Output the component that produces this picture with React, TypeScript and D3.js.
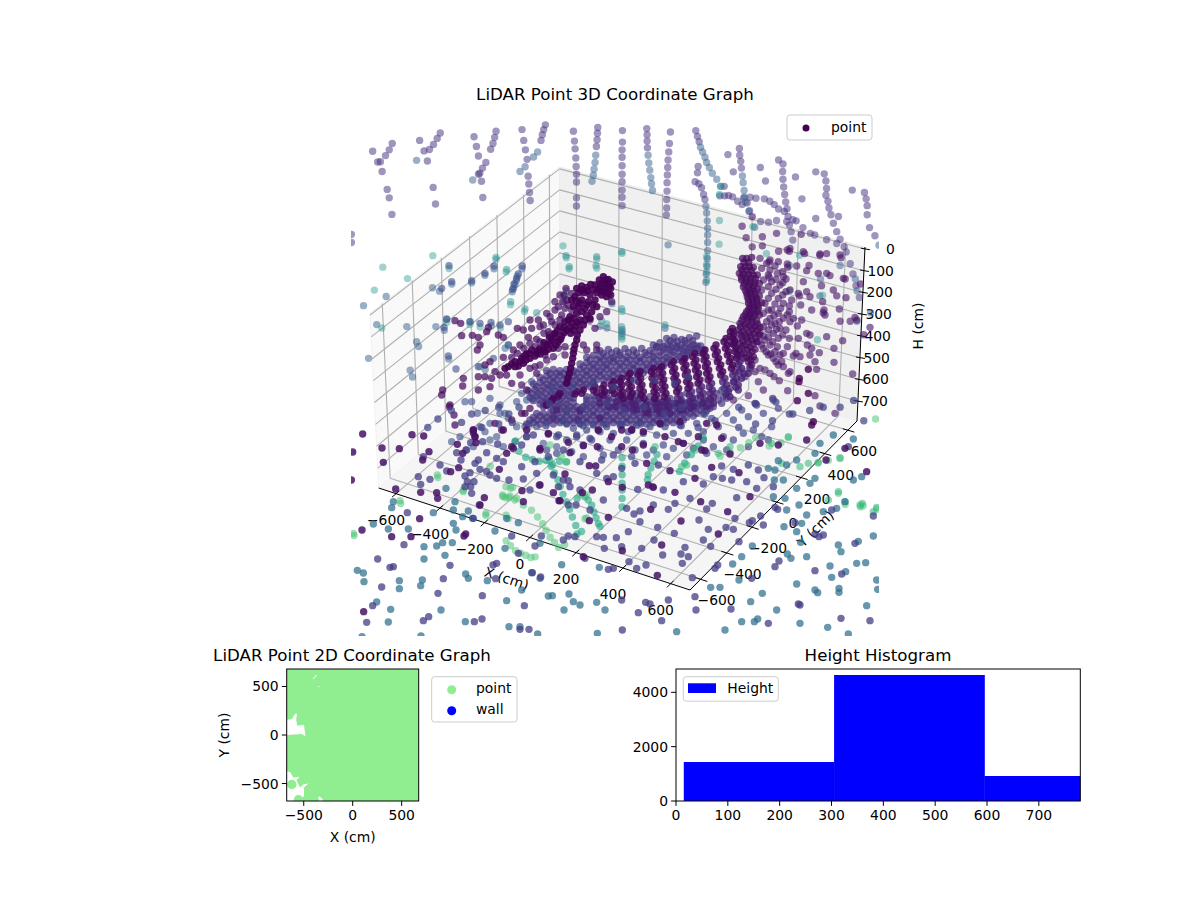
import React from "react";
import * as d3 from "d3";

// ---------- readings of the picture-plane LiDAR cloud (u,v pairs, per view frame) ----------
const farStrips = [125,99,116,118,105,135,90,153,82,154,67,122,95,182,110,235,116,260,124,309,267,68,258,84,247,102,235,117,219,121,206,90,229,151,246,229,253,278,432,63,428,81,423,99,416,116,367,79,374,108,380,136,402,155,392,172,384,187,380,190,389,211,393,259,578,44,573,58,569,73,565,90,509,58,514,90,519,118,524,146,527,196,529,219,531,244,533,268,661,63,664,92,666,115,668,142,669,167,670,190,670,213,670,260,670,284,733,52,732,69,731,88,729,108,806,61,806,95,805,118,805,140,805,165,805,190,805,212,805,237,805,258,805,283,878,55,879,73,879,92,880,112,948,65,945,99,943,124,941,148,940,170,939,192,938,215,938,240,937,265,937,290,936,311,1023,61,1028,78,1033,94,1021,212,1032,218,1040,230,1046,250,1050,265,1152,114,1153,134,1156,152,1158,172,1118,132,1134,183,1030,167,1028,186,1107,226,1094,254,1108,254,1120,253,1132,257,1147,270,1160,280,1184,258,1201,261,1226,263,1242,270,1255,280,1268,293,1268,148,1281,160,1280,182,1281,205,1283,228,1286,250,1289,272,1293,292,1296,315,1300,340,1305,360,1310,385,1403,189,1408,210,1410,232,1408,252,1414,270,1417,290,1423,310,1430,335,1440,360,1450,382,1462,405,1468,420,1480,455,1488,485,1497,520,1507,555,1522,244,1527,263,1530,283,1530,310,1537,348,1553,372,1214,170,1229,210,1318,198,1378,183,1337,263,1486,237,1445,315,1378,321,1285,300,1310,325,1340,348,1375,370,1410,384,1440,395,1165,260,1175,275,1182,298,1215,330,1238,332,1262,327,1292,330,1320,328,1362,365,4,368,4,392];
const paleStrips = [197,149,363,207,518,168,503,182,543,139,555,124,727,134,725,155,722,175,720,193,716,211,882,134,884,157,887,178,890,200,892,218,895,238,1037,110,1043,124,1050,140,1055,155,1063,170,1072,187,1085,205,1097,226,1053,285,1055,305,1057,328,1058,350,1058,370,1058,392,1058,416,1057,440,1056,463,1054,486,1053,510,1161,195,1163,215,1166,238,1167,258,1170,272,1180,300,1197,347,941,399,107,552,40,579,244,526,265,536,360,511,301,515,426,470,399,489,509,470,79,635,168,641,254,641,279,652,197,686,203,700,418,638,932,646,805,650,805,662,760,645,740,640,640,535,637,550,634,566,775,573,495,492,492,505,488,516,484,527,480,538,459,705,292,737,178,770,185,790,55,735,400,768,1392,500,1500,535,1540,600,1500,625,1565,400,1495,500,1450,460,1390,550,1300,460];
const tealDots = [245,431,97,465,170,499,293,469,432,442,462,479,72,533,475,576,630,402,640,437,648,470,730,441,730,468,805,424,1093,327,1092,397,805,596,516,596,94,645,286,628,355,635,385,642,445,645,1096,226,1093,250,805,678,1300,535,1398,548,1383,680,1232,425,1330,430,1192,345];
const wallDots = [1160,344,1190,316,1172,378,1220,375,1190,405,1220,402,1262,365,1335,368,1268,418,1300,418,1345,425,1390,430,1453,437,1410,425,1240,450,1295,465,1358,460,1420,490,1465,500,1510,515,1240,495,1290,500,1330,550,1395,520,1440,550,1400,600,1450,625,1480,625,1520,665];
const outerWallD = [270,55,310,65,360,72,420,75,290,108,262,102,320,122,380,130,430,145,310,155,295,190,320,185,355,130,400,180,180,85,210,90,235,95,262,60,185,115,210,120,232,130,250,140,270,180,190,150,215,155,240,165,258,185,275,210,185,180,215,190,235,205,250,220,268,245,280,265,195,220,215,240,235,250,250,265,270,275,292,288,305,270,190,250,210,265,225,280,240,295,268,325,295,325,320,310,330,315,190,290,205,300,220,310,235,325,262,350,288,370,322,345,335,355,180,310,195,330,210,345,225,365,240,375,300,380,358,368,175,335,190,355,205,375,220,385,235,405,250,410,270,425,265,430,165,390,180,415,210,430,238,452,263,482,350,418,402,397,402,355,428,332,458,432,510,292,375,255,418,237,335,240,302,225,330,200,438,203,465,262,470,270,368,215,372,240,380,320,345,395,405,550,360,528,345,497,218,505,165,520,145,497,190,480,175,455,100,510,280,378,330,375,200,100,225,108,248,125,205,135,228,148,248,158,205,170,228,178,248,195,268,228,205,205,225,222,242,235,262,255,205,240,222,258,238,275,258,300,200,275,215,285,230,298,248,315,190,318,205,322,218,335,232,350,250,370,185,345,198,365,212,372,228,395,245,395,150,410,165,425,195,420,222,440];
const darkWallD = [298,445,325,490,292,512,297,455,325,418,340,575,335,585];
const wallColumn = [128,85,140,85,155,82,122,110,135,110,148,110,160,112,118,130,130,132,145,133,160,135,172,135,125,150,138,152,150,155,165,158,178,160,130,170,145,172,158,175,172,178,140,190,152,192,165,195,178,198,145,210,158,212,170,215,185,218,150,230,162,232,175,235,140,245,152,250,165,252,178,255,130,260,142,265,155,268,170,272,120,280,135,285,150,288,165,290,180,292,115,300,130,305,148,308,162,310,178,315,125,320,140,325,155,330,170,335,120,340,135,345,150,352,165,358,118,360,132,368,148,375,160,380,130,385,145,395,155,405,132,98,146,97,126,120,140,121,154,122,124,141,138,142,152,144,166,146,133,161,148,163,162,166,136,181,150,182,164,184,142,200,156,202,170,205,146,220,160,222,174,225,146,238,158,241,172,244,136,253,148,258,160,260,126,270,140,275,156,278,172,282,122,290,138,295,156,298,172,302,120,312,136,315,152,318,168,324,128,332,144,336,160,342,126,350,142,358,156,365,124,372,140,382,152,390,90,320,100,305,105,330,95,340];
const ribUpper = [877,235,880,255,884,275,888,295,892,315,858,265,862,285,866,305,872,325,878,345,828,285,832,305,836,325,842,345,848,365,795,300,798,320,802,340,806,360,810,380,765,310,768,330,772,350,776,370,780,390,735,325,738,345,742,365,746,385,750,405,700,335,704,355,708,375,712,395,716,415,665,350,668,370,671,390,675,410,678,430,640,355,642,375,645,395,648,415,650,435,600,365,602,385,606,405,610,425,612,445,570,370,572,390,574,410,577,430,545,385,546,405,548,425,550,445,520,395,521,412,523,430,492,405,494,425,465,410,470,428,430,420,410,425,360,430,340,445,320,465,
  871,245,878,265,882,285,886,305,890,325,852,275,856,295,862,315,868,335,874,355,822,295,826,315,832,335,838,355,842,375,789,310,792,330,796,350,800,370,804,390,758,320,762,340,766,360,770,380,774,400,728,335,732,355,736,375,740,395,744,415,694,345,698,365,702,385,706,405,710,425,658,360,662,380,666,400,668,420,672,440,634,365,636,385,638,405,642,425,644,445,594,375,596,395,600,415,603,435,564,380,566,400,568,420,572,440,540,395,540,415,542,435,514,405,516,422,486,415,488,435,460,420,425,430,405,432,355,438,335,452];
const ribLower = [900,335,905,355,912,370,925,370,885,365,890,385,895,405,895,420,855,385,860,405,865,425,870,440,815,400,817,420,820,440,820,460,785,410,790,430,795,450,800,470,755,425,757,445,760,470,720,435,724,455,730,480,682,450,686,470,690,490,655,455,658,472,660,490,618,465,622,480,625,490,582,450,586,465,590,480,552,460,556,475,525,470,530,455,505,470,500,450,480,460,478,445,420,480,480,505,350,480,895,345,898,365,905,385,878,375,882,395,888,412,848,395,852,415,858,432,808,410,810,430,812,450,778,420,782,440,788,460,748,435,750,455,752,475,712,445,716,465,720,480,675,460,678,480,648,462,650,480,612,472,616,488,575,460,580,475];
const bandCloud = [680,265,702,262,725,268,748,263,770,258,640,285,660,278,682,284,700,280,722,286,740,281,760,284,782,288,480,302,505,298,530,303,555,296,580,300,605,295,630,302,650,292,670,298,690,300,710,295,730,302,750,298,770,295,790,300,440,322,460,316,480,320,500,318,520,322,540,316,560,320,580,318,600,322,620,315,640,320,660,318,680,322,700,316,720,320,740,315,420,342,440,338,460,342,480,338,500,342,520,336,540,340,560,338,580,342,600,336,620,342,640,338,660,342,680,338,320,362,340,358,360,362,380,358,400,362,420,358,440,362,460,358,480,362,500,358,520,362,540,358,560,362,580,358,600,362,620,360,300,382,320,378,340,382,360,378,380,382,400,378,420,382,440,378,460,382,480,378,500,382,520,378,540,382,280,402,300,398,320,402,340,398,360,402,380,398,400,402,420,398,440,402,460,398,265,422,285,418,305,422,325,418,345,422,365,418,385,422,270,442,290,438,310,442,330,438,350,442,370,438,390,442,440,440,460,438,500,430,505,445,535,440,560,440,590,430,595,450,630,440,640,455,690,445,700,460,740,430,745,455,780,435,790,455,830,430,835,450,870,415,880,395,915,380,930,355,300,462,320,458,340,462,360,458,380,462,400,458,440,460,460,462,480,458,500,462,520,458,540,462,560,458,580,462,600,458,620,462,640,458,660,462,680,458,700,462,720,458,740,462,760,458,780,462,340,482,360,478,380,482,400,478,420,482,440,478,460,482,480,478,500,482,520,478,540,482,560,478,580,482,600,478,620,482,640,478,660,482,680,478,700,482,720,478,740,482,760,478,780,480,800,482,820,470,845,460,280,502,300,498,320,502,340,498,360,502,380,498,400,502,420,498,440,502,460,498,480,502,500,498,520,502,540,498,560,502,580,498,600,502,620,498,640,502,660,498,680,502,700,498,720,498,740,502,760,498,260,522,280,518,300,522,320,518,340,522,360,518,380,522,400,518,420,522,440,518,460,522,480,518,500,522,520,518,540,522,560,518,580,522,600,518,620,522,640,518,660,522,680,518,700,518];
const bandFill = [690,272,712,274,735,272,758,272,650,290,671,290,692,291,712,290,733,292,752,291,772,288,490,310,515,309,540,309,565,307,590,309,615,308,640,309,660,306,680,309,700,307,720,309,742,307,762,306,782,308,450,330,470,329,490,329,510,329,530,328,550,328,570,329,590,330,610,328,630,329,650,329,670,330,690,329,710,329,730,328,430,350,450,350,470,350,490,350,510,349,530,349,550,349,570,350,590,350,610,349,630,350,650,350,670,349,330,370,350,370,370,370,390,370,410,369,430,370,450,370,470,370,490,370,510,370,530,370,550,370,570,370,590,370,610,369,310,390,330,390,350,390,370,390,390,390,410,390,430,390,450,390,470,390,490,390,510,390,530,390,290,410,310,410,330,410,350,410,370,410,390,410,410,410,430,410,450,410,275,430,295,430,315,430,335,430,355,430,375,430,395,430,280,452,300,450,320,450,340,450,360,450,380,450,400,445,440,450,460,450,480,440,520,445,540,450,570,450,600,445,620,455,650,460,670,455,710,460,725,450,765,445,770,460,810,445,810,465,850,440,860,445,310,470,330,470,350,470,370,470,390,470,410,470,430,470,450,470,470,470,490,470,510,470,530,470,550,470,570,470,590,470,610,470,630,470,650,470,670,470,690,470,710,470,730,470,750,470,770,470,790,470,810,475,290,490,310,490,330,490,350,490,370,490,390,490,410,490,430,490,450,490,470,490,490,490,510,490,530,490,550,490,570,490,590,490,610,490,630,490,650,490,670,490,690,490,710,490,730,490,750,490,770,490,790,490,270,510,290,510,310,510,330,510,350,510,370,510,390,510,410,510,430,510,450,510,470,510,490,510,510,510,530,510,550,510,570,510,590,510,610,510,630,510,650,510,670,510,690,510,710,510,730,510];
const peakRidge = [490,80,505,88,517,96,478,90,492,100,508,108,495,118,480,112,465,105,512,135,500,140,485,135,470,128,452,103,440,112,425,108,410,115,432,128,450,135,465,150,445,155,425,150,405,140,395,150,415,170,435,175,455,185,410,190,390,200,375,215,395,218,420,210,360,230,380,240,400,240,345,250,365,258,335,270,355,275,320,285,340,295,300,295,315,305,290,310,275,300,260,312,245,325,225,335,235,348,205,350,195,355,270,325,250,340,470,170,440,195,430,225,412,255,405,285,400,310,395,340,388,370,380,400,
  498,90,484,100,500,105,512,115,474,118,488,125,502,125,460,118,442,122,424,120,416,128,408,152,420,160,440,165,458,165,400,170,425,185,400,205,385,210,412,218,372,232,390,232,408,228,352,242,372,248,392,250,328,262,345,262,362,268,312,278,330,280,348,285,295,302,310,298,325,298,268,310,285,318,300,312,252,318,240,335,258,330,215,342,225,350,450,205,435,210,420,240,410,270,402,298,398,325,392,355,384,385];
const sideRidge = [378,115,372,135,368,155,345,180,330,200,310,225,320,190,355,170,360,210,450,210,465,235,480,200,500,185,515,155,505,130,395,180,375,175,345,225,330,255,355,295,375,315,340,320,315,315,300,345,285,350,270,355,240,375,245,405,260,420,290,370,320,330,470,285,440,300,470,300,430,285,375,290,385,165,365,195,335,215,312,250,300,275,285,290,270,280,252,295,232,310,215,322,360,135,345,155,380,150,395,130];
const leftDark = [45,212,62,220,65,257,97,256,115,262,120,285,112,300,145,232,140,245,175,255,190,262,232,235,250,240,275,235,270,210,295,210,300,230,265,262,290,268,325,245,345,250,240,285,220,300,190,322,150,335,135,380,115,380,180,375,155,385,150,410,115,420,70,385,68,408,30,465,42,495,45,525,100,540,105,560,185,540,165,520,215,510,245,490,270,475,255,490,315,465,340,505,325,550,415,510,475,540,575,540,5,435,8,420,200,375,215,400,28,470,135,345,165,365];
const leftBlue = [27,47,135,70,162,48,95,92,35,95,20,207,12,232,90,215,120,220,153,217,205,285,115,350,48,357,25,318,5,115,205,215,180,225,247,48,235,72,230,85,222,102,218,118,160,325,75,455,95,455,112,490,180,490,195,490,35,575,60,560,150,520,120,530,230,530,255,530,150,570,100,590,80,600,245,430,260,450,230,455,275,395,180,465,150,445,205,505,135,545,170,560,190,590,225,575,260,560,290,530,310,580,350,590];
const leftTeal = [168,22,200,58,212,155,255,177,290,188,378,17,388,50,470,20,468,47,545,5,545,176,545,230,545,245,545,260,800,20,800,43,800,65,800,90,675,225,500,222,485,213,20,208,90,215,120,350,205,285];
const underBand = [380,520,400,535,420,520,440,540,460,525,480,545,500,530,520,550,545,525,565,545,590,525,610,550,630,530,650,555,675,530,700,550,720,525,745,550,770,520,790,545,815,505,835,530,860,490,880,510,905,480,925,500,950,465,970,490,1000,450,1015,475,350,560,380,570,410,560,430,585,455,570,480,595,510,570,535,600,560,570,585,600,610,580,640,600,670,585,700,595,730,580,760,595,790,570,820,590,850,560,880,570,910,550,940,540,965,560,995,530,320,600,350,610,395,605,430,620,490,615,575,620,620,615,680,620,740,615,800,610,860,600,925,590,985,570];
const floorDarkNear = [475,540,515,560,545,540,575,540,610,545,660,520,720,515,800,520,830,525,715,575,785,600,260,540,300,595,220,595,190,540,100,540,105,560];
const greenStrips = [452,374,470,378,488,385,513,400,537,415,555,435,570,455,580,475,592,495,605,510,617,525,635,517,462,505,475,520,490,535,505,542,520,548,535,555,548,553,475,350,460,378,402,430,462,430,468,440,415,285,260,318,335,360,150,395,12,490,1510,405,1518,402,1558,412,1465,398,1445,365,1450,262,1415,268,1385,275,1555,145,700,438,695,440,1297,200,1275,215,1240,225,1200,200,1180,215,1155,230,1125,245,1095,255];
const tealStrips = [590,265,595,285,605,305,615,325,622,345,630,368,640,390,650,412,658,435,668,460,672,485,685,478,672,380,695,375,705,385,715,400,722,420,728,438,735,455,740,463,805,260,805,285,805,310,805,335,805,355,805,380,805,405,908,250,900,270,890,290,882,310,880,325,1045,200,1030,225,1010,250,990,275,975,300,540,265,560,270,580,268,600,280,620,270,640,272,520,258,500,240,490,210];
const floorMid = [1000,20,960,40,900,30,840,30,780,50,720,40,660,50,600,50,1100,60,1050,130,980,110,930,130,870,110,810,120,760,100,690,110,640,120,590,100,540,85,500,110,470,130,440,110,400,120,1150,110,1200,100,1260,95,1310,130,1360,120,1400,110,1450,110,1490,90,1520,150,1250,150,1300,130,1200,160,1150,170,1080,150,1030,170,980,165,920,160,860,160,800,165,750,160,690,165,630,150,580,165,530,160,480,155,440,160,390,170,360,130,330,155,300,120,260,145,230,170];

const llSteel = [130,215,125,233,70,282,115,297,175,297,222,350,222,387,285,376,260,348,278,338,307,338,250,248,288,175,310,280,318,300,315,215,310,240,338,260,355,243,370,265,347,432,355,445,412,452,465,355,570,340,607,497,595,498,470,512,515,480,570,445,545,428,635,404,657,492,670,515,690,525,642,540,748,412,740,517,765,540,742,610,148,452,148,476,212,467,217,450,122,538,115,576,80,516,22,421,40,429,42,455,273,540,346,575,477,590,510,590,563,612,36,620,213,618,435,303,505,278,470,265];
const llNavy = [83,387,300,406,280,446,264,490,397,497,523,527,429,405,437,446,547,428,396,567,373,575,220,572,236,560,68,527,50,577,95,471,172,248,130,410,120,412,162,344,368,265,388,225,555,348,572,441,574,318,485,318,505,370,440,400,705,385,640,330,655,318,675,320,760,322,763,355,790,415,775,418,537,598,510,598,220,80,205,140,212,163,240,148,270,105,290,123,345,138,352,155,372,155,362,170,345,170,365,190,375,100,360,128,390,118,410,125,420,135,440,145,410,68,385,90,333,90,320,68,348,60,362,38,398,35,443,42,440,85,460,95,477,150,520,147,568,165,540,180,515,110,560,130,610,135,640,150,655,152,625,170,660,170,690,180,678,225,655,225,760,210,770,145,790,140,740,130,690,95,640,60,595,80,555,95,515,45,530,20,550,15,625,15,680,15,720,25,755,90,790,75,720,240,740,320];
const llDark = [38,12,8,66,100,97,218,90,237,65,148,56,96,54,186,14,221,18,36,300,209,266,183,320,125,320,347,312,342,318,41,545,137,177,212,187,260,188,263,205,403,203,390,225,302,125,326,113,338,70,322,43,370,8,378,38,448,118,470,70,485,50,516,182,520,215,627,212,610,188,645,132,697,188,727,180,570,60,595,12,655,37,660,68,700,47,742,50,718,107,737,108,775,155,775,262,718,272,630,212,700,380,570,165,4,150];
const llGreen = [10,310,340,180,408,250,468,170,488,172,458,195,480,198,500,205,262,135,150,212,690,195,710,195,600,45,635,80,650,95];
const lrSteel = [407,515,485,540,555,580,700,612,638,592,380,575,330,600,185,605,670,345,678,365,725,400,752,398,645,408,650,442,692,425,545,462,785,450,788,478,672,475,672,487,600,480,608,488,755,527,442,490,418,575,428,567,315,472,287,472,372,450,353,402,380,380,412,348,517,372,528,385,575,380,557,337,775,318,730,334,545,305,507,290,575,255,560,280,552,225,625,245,665,235,690,215,600,145,585,160,545,175,510,205,515,240,475,200,505,150,478,150,480,120,460,115,490,92,515,105,545,90,600,70,615,40,655,15,715,27,740,140,715,150];
const lrNavy = [243,540,160,510,140,572,70,548,20,510,22,600,240,500,92,517,105,522,348,537,460,580,550,522,555,525,680,432,600,422,492,393,480,410,410,445,308,405,300,415,232,443,65,415,93,405,42,395,202,400,220,380,198,372,210,352,265,330,287,349,143,375,117,330,80,355,128,292,178,310,252,270,280,298,333,292,355,298,372,335,403,278,412,272,445,285,437,258,360,265,292,220,275,237,225,205,180,220,160,238,115,225,75,243,35,235,57,252,40,305,4,323,20,350,75,275,625,315,612,320,600,312,720,340,540,278,650,240,775,258,765,572,678,565,480,232,488,238,145,180,113,170,68,178,205,155,265,162,295,140,322,145,350,150,395,155,425,175,365,203,475,170,447,143,430,120,400,105,355,118,320,108,240,115,130,105,60,100,20,115,700,50];
const lrDark = [127,436,140,345,22,362,198,273,107,238,257,215,310,312,180,187,100,165,115,172,240,145,372,128,405,200,290,112,165,122,95,100,150,20,205,40,250,20,320,25,270,62,345,72,435,40,490,45,575,30,690,55,755,125,22,172,52,60,20,50,85,45,633,90,338,245];
const lrGreen = [520,20,675,83,610,97,670,185,690,215,735,225,742,220,775,245,785,232,640,210,470,40,500,100,555,110,580,100,120,50,200,110,215,105,310,70,345,50,240,60];

const frames = {
  upper: { x0: 350, y0: 110, w: 1568, h: 799, pw: 530, ph: 270 },
  lower: { x0: 350, y0: 370, w: 1568, h: 799, pw: 530, ph: 270 },
  centre: { x0: 440, y0: 250, w: 1020, h: 630, pw: 340, ph: 210 },
  wall: { x0: 700, y0: 230, w: 540, h: 600, pw: 180, ph: 200 },
  lowLeft: { x0: 350, y0: 430, w: 795, h: 618, pw: 265, ph: 206 },
  lowRight: { x0: 615, y0: 430, w: 795, h: 618, pw: 265, ph: 206 },
};
// far → near
const cloudLayers: [any, keyof typeof frames, number, number][] = [
  [farStrips, "upper", 0.15, 0.52], [paleStrips, "upper", 0.3, 0.5], [tealDots, "upper", 0.52, 0.42],
  [leftTeal, "centre", 0.48, 0.45], [wallDots, "upper", 0.05, 0.6], [outerWallD, "wall", 0.06, 0.62], [darkWallD, "wall", 0.0, 0.8],
  [leftBlue, "centre", 0.24, 0.6], [leftDark, "centre", 0.03, 0.72], [bandCloud, "centre", 0.15, 0.7], [bandFill, "centre", 0.14, 0.7],
  [sideRidge, "centre", 0.05, 0.7], [wallColumn, "wall", 0.03, 0.72], [ribLower, "centre", 0.09, 0.8],
  [ribUpper, "centre", 0.02, 0.85], [peakRidge, "centre", 0, 0.9],
  [underBand, "centre", 0.2, 0.68], [floorMid, "lower", 0.2, 0.72], [tealStrips, "lower", 0.6, 0.62], [greenStrips, "lower", 0.7, 0.5], [llGreen, "lowLeft", 0.7, 0.5], [lrGreen, "lowRight", 0.66, 0.55],
  [llSteel, "lowLeft", 0.36, 0.72], [lrSteel, "lowRight", 0.36, 0.72], [llNavy, "lowLeft", 0.18, 0.75], [lrNavy, "lowRight", 0.18, 0.75],
  [floorDarkNear, "centre", 0.04, 0.85], [llDark, "lowLeft", 0.05, 0.85], [lrDark, "lowRight", 0.05, 0.85],
];

// ---------- axis values ----------
const xyTicks3d = [-600, -400, -200, 0, 200, 400, 600];
const hTicks3d = [0, 100, 200, 300, 400, 500, 600, 700];
const xyLimit = [-680, 680];
const hLimit = [-9, 791];
// picture positions of the box corners: (−X,−Y), (+X,−Y), (+X,+Y), (−X,+Y)
const floorCorners = [[378.7, 488], [690, 590], [857, 421], [560, 335]];
const ceilingCorners = [[370, 313], [695, 414], [865, 247], [559.5, 167]];

const ticks2dX = [-500, 0, 500];
const ticks2dY = [500, 0, -500];
const coverageLimitX = [-674, 674];
const coverageLimitY = [-680, 680];
const holes2d = [
  [[-680, 156], [-622, 163], [-588, 218], [-568, 218], [-578, 156], [-565, 95], [-497, 105], [-483, -14], [-520, 10], [-554, 7], [-680, 0]],
  [[-680, -371], [-639, -381], [-605, -439], [-544, -429], [-575, -470], [-537, -541], [-503, -507], [-452, -500], [-497, -541], [-497, -626], [-520, -653], [-560, -680], [-680, -680]],
  [[-408, 580], [-370, 620], [-362, 616], [-402, 574]],
  [[-352, 505], [-342, 505], [-342, 495], [-352, 495]],
  [[-350, -640], [-340, -630], [-310, -660], [-305, -680], [-345, -680]],
];
const coveragePoints = [[-622, -510], [-554, -667]];

const histEdges = [15, 305, 595, 885];
const histCounts = [1435, 4637, 920];
const histTicksX = [0, 100, 200, 300, 400, 500, 600, 700];
const histTicksY = [0, 2000, 4000];

// ---------- helpers ----------
const FONT = "'DejaVu Sans', sans-serif";
const INK = "#000";
const minus = (v: number) => String(v).replace("-", "\u2212");

function unitSquareMap(q: number[][]) {
  const [[x0, y0], [x1, y1], [x2, y2], [x3, y3]] = q;
  const dx1 = x1 - x2, dx2 = x3 - x2, sx = x0 - x1 + x2 - x3;
  const dy1 = y1 - y2, dy2 = y3 - y2, sy = y0 - y1 + y2 - y3;
  const den = dx1 * dy2 - dx2 * dy1;
  const g = (sx * dy2 - dx2 * sy) / den, h = (dx1 * sy - sx * dy1) / den;
  const a = x1 - x0 + g * x1, b = x3 - x0 + h * x3, d = y1 - y0 + g * y1, e = y3 - y0 + h * y3;
  return (u: number, v: number) => {
    const w = g * u + h * v + 1;
    return [(a * u + b * v + x0) / w, (d * u + e * v + y0) / w];
  };
}
const toUnitXY = d3.scaleLinear().domain(xyLimit).range([0, 1]);
const toUnitH = d3.scaleLinear().domain(hLimit).range([0, 1]);
const floorMap = unitSquareMap(floorCorners);
const ceilMap = unitSquareMap(ceilingCorners);
function project(x: number, y: number, h: number) {
  const u = toUnitXY(x), v = toUnitXY(y), t = toUnitH(h);
  const a = ceilMap(u, v), b = floorMap(u, v);
  return [a[0] + (b[0] - a[0]) * t, a[1] + (b[1] - a[1]) * t];
}
const [lo, hi] = xyLimit;
const [hTop, hBot] = hLimit;
const line3d = (a: number[], b: number[], p: any) => (
  <line x1={a[0]} y1={a[1]} x2={b[0]} y2={b[1]} {...p} />
);
const poly = (pts: number[][]) => pts.map((p) => p.join(",")).join(" ");
const tone = d3.scaleSequential(d3.interpolateViridis).domain([0, 1]);

function Cloud() {
  const out: any[] = [];
  cloudLayers.forEach(([flat, frameName, c, alpha], li) => {
    const f = frames[frameName];
    const sx = d3.scaleLinear().domain([0, f.w]).range([f.x0, f.x0 + f.pw]);
    const sy = d3.scaleLinear().domain([0, f.h]).range([f.y0, f.y0 + f.ph]);
    for (let i = 0; i + 1 < flat.length; i += 2) {
      out.push(<circle key={li + "-" + i} cx={sx(flat[i])} cy={sy(flat[i + 1])} r={3.7} fill={tone(c)} fillOpacity={alpha} />);
    }
  });
  return <g clipPath="url(#clip3d)">{out}</g>;
}

function Box3D() {
  const grid = { stroke: "#b0b0b0", strokeWidth: 1.1, fill: "none" };
  const tk = { stroke: INK, strokeWidth: 1 };
  return (
    <g>
      <polygon points={poly([project(lo, lo, hTop), project(lo, hi, hTop), project(lo, hi, hBot), project(lo, lo, hBot)])} fill="#f9f9f9" stroke="#f2f2f2" />
      <polygon points={poly([project(lo, hi, hTop), project(hi, hi, hTop), project(hi, hi, hBot), project(lo, hi, hBot)])} fill="#f0f0f0" stroke="#ececec" />
      <polygon points={poly([project(lo, lo, hBot), project(hi, lo, hBot), project(hi, hi, hBot), project(lo, hi, hBot)])} fill="#f5f5f5" stroke="#f2f2f2" />
      {xyTicks3d.map((t) => (
        <g key={"gx" + t}>
          {line3d(project(t, lo, hBot), project(t, hi, hBot), grid)}
          {line3d(project(t, hi, hBot), project(t, hi, hTop), grid)}
          {line3d(project(lo, t, hBot), project(hi, t, hBot), grid)}
          {line3d(project(lo, t, hBot), project(lo, t, hTop), grid)}
        </g>
      ))}
      {hTicks3d.map((t) => (
        <g key={"gh" + t}>
          {line3d(project(lo, lo, t), project(lo, hi, t), grid)}
          {line3d(project(lo, hi, t), project(hi, hi, t), grid)}
        </g>
      ))}
      {line3d(project(lo, lo, hBot), project(hi, lo, hBot), tk)}
      {line3d(project(hi, lo, hBot), project(hi, hi, hBot), tk)}
      {line3d(project(hi, hi, hBot), project(hi, hi, hTop), tk)}
      {xyTicks3d.map((t) => {
        const a = project(t, lo, hBot), b = project(t, lo + 22, hBot), c = project(t, lo - 28, hBot);
        const p = project(hi, t, hBot), q = project(hi - 22, t, hBot), r = project(hi + 28, t, hBot);
        return (
          <g key={"tx" + t}>
            {line3d(b, c, tk)}
            {line3d(q, r, tk)}
            <text x={a[0] - 10} y={a[1] + 31} textAnchor="middle" fontFamily={FONT} fontSize={13.9} fill={INK}>{minus(t)}</text>
            <text x={p[0] + 16} y={p[1] + 26} textAnchor="middle" fontFamily={FONT} fontSize={13.9} fill={INK}>{minus(t)}</text>
          </g>
        );
      })}
      {hTicks3d.map((t) => {
        const a = project(hi, hi, t);
        return (
          <g key={"th" + t}>
            <line x1={a[0] - 4} y1={a[1] - 0.8} x2={a[0] + 5} y2={a[1] + 0.8} {...tk} />
            <text x={a[0] + 30} y={a[1] + 5} textAnchor="end" fontFamily={FONT} fontSize={13.9} fill={INK}>{t}</text>
          </g>
        );
      })}
      <text transform="translate(505,583) rotate(18)" textAnchor="middle" fontFamily={FONT} fontSize={13.9} fill={INK}>X (cm)</text>
      <text transform="translate(819,532) rotate(-45)" textAnchor="middle" fontFamily={FONT} fontSize={13.9} fill={INK}>Y (cm)</text>
      <text transform="translate(923,326) rotate(-90)" textAnchor="middle" fontFamily={FONT} fontSize={13.9} fill={INK}>H (cm)</text>
    </g>
  );
}

function Plot2D() {
  const x = d3.scaleLinear().domain(coverageLimitX).range([286.7, 418.7]);
  const y = d3.scaleLinear().domain(coverageLimitY).range([801, 669]);
  const lineGen = d3.line<number[]>().x((d) => x(d[0])).y((d) => y(d[1]));
  return (
    <g>
      <clipPath id="clip2d"><rect x={286.7} y={669} width={132} height={132} /></clipPath>
      <g clipPath="url(#clip2d)">
        <rect x={x(coverageLimitX[0])} y={y(coverageLimitY[1])} width={x(coverageLimitX[1]) - x(coverageLimitX[0])} height={y(coverageLimitY[0]) - y(coverageLimitY[1])} fill="#90ee90" />
        {holes2d.map((h, i) => <path key={i} d={lineGen(h) + "Z"} fill="#fff" />)}
        {coveragePoints.map((p, i) => <circle key={i} cx={x(p[0])} cy={y(p[1])} r={4.7} fill="#90ee90" />)}
      </g>
      <rect x={286.7} y={669} width={132} height={132} fill="none" stroke={INK} strokeWidth={1} />
      {ticks2dX.map((t) => (
        <g key={t}>
          <line x1={x(t)} x2={x(t)} y1={801} y2={805.9} stroke={INK} />
          <text x={x(t)} y={820} textAnchor="middle" fontFamily={FONT} fontSize={13.9}>{minus(t)}</text>
        </g>
      ))}
      {ticks2dY.map((t) => (
        <g key={t}>
          <line x1={281.8} x2={286.7} y1={y(t)} y2={y(t)} stroke={INK} />
          <text x={278.7} y={y(t) + 5} textAnchor="end" fontFamily={FONT} fontSize={13.9}>{minus(t)}</text>
        </g>
      ))}
      <text x={352.7} y={842} textAnchor="middle" fontFamily={FONT} fontSize={13.9}>X (cm)</text>
      <text transform="translate(229,735) rotate(-90)" textAnchor="middle" fontFamily={FONT} fontSize={13.9}>Y (cm)</text>
      <text x={352} y={661} textAnchor="middle" fontFamily={FONT} fontSize={16.67}>LiDAR Point 2D Coordinate Graph</text>
      <rect x={431.7} y={676.7} width={85.3} height={45.3} rx={3} fill="#fff" stroke="#ccc" />
      <circle cx={451.7} cy={689.7} r={4.5} fill="#90ee90" />
      <circle cx={451.7} cy={710.7} r={4.5} fill="#0000ff" />
      <text x={476} y={693} fontFamily={FONT} fontSize={13.9}>point</text>
      <text x={476} y={714} fontFamily={FONT} fontSize={13.9}>wall</text>
    </g>
  );
}

function Histogram() {
  const x = d3.scaleLinear().domain([0, 780]).range([676, 1080.3]);
  const y = d3.scaleLinear().domain([0, 4858]).range([801, 669]);
  return (
    <g>
      <clipPath id="cliphist"><rect x={676} y={669} width={404.3} height={132} /></clipPath>
      <g clipPath="url(#cliphist)">
        {histCounts.map((c, i) => (
          <rect key={i} x={x(histEdges[i])} y={y(c)} width={x(histEdges[i + 1]) - x(histEdges[i]) + 0.4} height={801 - y(c)} fill="#0000ff" />
        ))}
      </g>
      <rect x={676} y={669} width={404.3} height={132} fill="none" stroke={INK} />
      {histTicksX.map((t) => (
        <g key={t}>
          <line x1={x(t)} x2={x(t)} y1={801} y2={805.9} stroke={INK} />
          <text x={x(t)} y={820} textAnchor="middle" fontFamily={FONT} fontSize={13.9}>{t}</text>
        </g>
      ))}
      {histTicksY.map((t) => (
        <g key={t}>
          <line x1={671.1} x2={676} y1={y(t)} y2={y(t)} stroke={INK} />
          <text x={668} y={y(t) + 5} textAnchor="end" fontFamily={FONT} fontSize={13.9}>{t}</text>
        </g>
      ))}
      <text x={878} y={661} textAnchor="middle" fontFamily={FONT} fontSize={16.67}>Height Histogram</text>
      <rect x={683.3} y={676.7} width={95} height={24.5} rx={3} fill="#fff" fillOpacity={0.8} stroke="#ccc" />
      <rect x={688} y={683.3} width={28} height={9.7} fill="#0000ff" />
      <text x={727.3} y={693} fontFamily={FONT} fontSize={13.9}>Height</text>
    </g>
  );
}

export default function App() {
  return (
    <svg width={1200} height={900} style={{ position: "absolute", left: 0, top: 0, background: "#fff" }}>
      <clipPath id="clip3d"><rect x={351} y={108} width={528} height={528} /></clipPath>
      <Box3D />
      <Cloud />
      <text x={615} y={100} textAnchor="middle" fontFamily={FONT} fontSize={16.67}>LiDAR Point 3D Coordinate Graph</text>
      <rect x={787} y={115} width={85} height={25} rx={3} fill="#fff" fillOpacity={0.8} stroke="#ccc" />
      <circle cx={806} cy={128} r={3.5} fill="#440154" />
      <text x={831} y={132} fontFamily={FONT} fontSize={13.9}>point</text>
      <Plot2D />
      <Histogram />
    </svg>
  );
}
